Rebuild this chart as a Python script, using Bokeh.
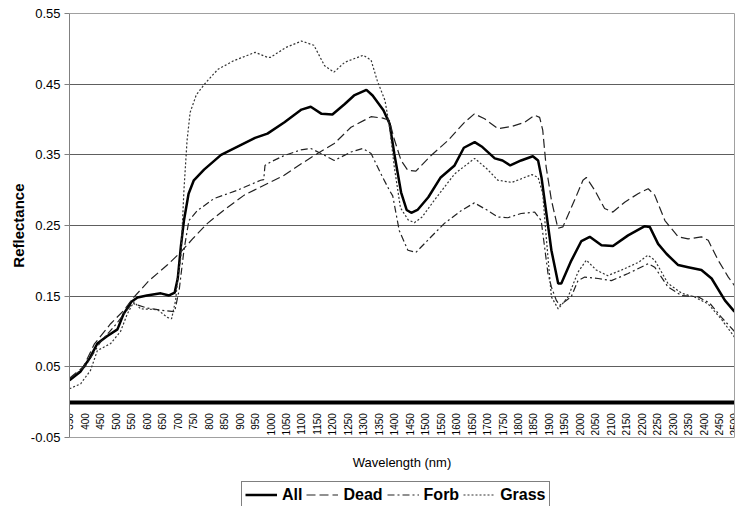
from math import pi
from bokeh.plotting import figure
from bokeh.models import (LinearAxis, FixedTicker, PrintfTickFormatter, Legend,
                          LegendItem, Range1d, Title)
from bokeh.embed import file_html
from bokeh.resources import INLINE

FONT = "Liberation Sans"

# ---------------- data ----------------
x_ticks = list(range(350, 2501, 50))
y_ticks = [-0.05, 0.05, 0.15, 0.25, 0.35, 0.45, 0.55]
grid_ticks = [0.05, 0.15, 0.25, 0.35, 0.45]

all_wl = [350, 385, 415, 440, 470, 505, 525, 550, 570, 600,
          645, 672, 690, 700, 710, 720, 735, 752, 785, 840,
          895, 950, 990, 1045, 1100, 1130, 1165, 1200, 1240, 1270,
          1310, 1330, 1365, 1385, 1400, 1422, 1440, 1455, 1475, 1510,
          1550, 1595, 1625, 1660, 1685, 1725, 1750, 1775, 1810, 1848,
          1865, 1876, 1886, 1908, 1930, 1940, 1972, 2005, 2032, 2070,
          2107, 2156, 2210, 2226, 2253, 2280, 2318, 2350, 2393, 2426,
          2469, 2500]
all_refl = [0.031, 0.043, 0.062, 0.083, 0.093, 0.103, 0.125, 0.142, 0.148, 0.151,
            0.154, 0.151, 0.155, 0.175, 0.220, 0.257, 0.295, 0.314, 0.329, 0.350,
            0.362, 0.374, 0.380, 0.396, 0.414, 0.418, 0.408, 0.407, 0.422, 0.434,
            0.442, 0.434, 0.413, 0.394, 0.352, 0.297, 0.272, 0.268, 0.272, 0.290,
            0.318, 0.335, 0.360, 0.368, 0.361, 0.345, 0.342, 0.335, 0.342, 0.348,
            0.342, 0.318, 0.286, 0.215, 0.168, 0.168, 0.200, 0.228, 0.234, 0.222,
            0.221, 0.236, 0.249, 0.248, 0.224, 0.210, 0.194, 0.191, 0.187, 0.175,
            0.144, 0.128]

dead_wl = [350, 395, 430, 483, 526, 553, 607, 666, 709, 750,
           796, 850, 915, 979, 1044, 1098, 1152, 1206, 1260, 1325,
           1363, 1384, 1400, 1422, 1444, 1470, 1519, 1573, 1627, 1659,
           1692, 1735, 1778, 1821, 1854, 1870, 1880, 1891, 1908, 1929,
           1945, 1983, 2010, 2021, 2048, 2080, 2107, 2145, 2188, 2221,
           2242, 2275, 2318, 2350, 2393, 2415, 2447, 2480, 2500]
dead_refl = [0.034, 0.050, 0.082, 0.111, 0.130, 0.146, 0.172, 0.194, 0.212, 0.232,
             0.253, 0.272, 0.293, 0.307, 0.321, 0.337, 0.352, 0.366, 0.389, 0.404,
             0.402, 0.399, 0.372, 0.342, 0.328, 0.327, 0.349, 0.370, 0.396, 0.408,
             0.401, 0.387, 0.390, 0.396, 0.406, 0.403, 0.385, 0.333, 0.286, 0.246,
             0.248, 0.286, 0.314, 0.318, 0.300, 0.274, 0.269, 0.283, 0.295, 0.302,
             0.293, 0.257, 0.234, 0.231, 0.234, 0.229, 0.201, 0.177, 0.165]

forb_wl = [350, 400, 450, 500, 553, 602, 650, 690, 705, 720,
           736, 763, 817, 893, 968, 978, 982, 1001, 1044, 1098,
           1130, 1163, 1206, 1260, 1298, 1325, 1357, 1384, 1395, 1416,
           1444, 1470, 1508, 1562, 1616, 1659, 1703, 1735, 1767, 1810,
           1854, 1875, 1897, 1908, 1924, 1935, 1972, 1994, 2016, 2059,
           2102, 2156, 2221, 2242, 2285, 2328, 2383, 2420, 2458, 2500]
forb_refl = [0.033, 0.050, 0.085, 0.110, 0.140, 0.133, 0.130, 0.128, 0.160, 0.215,
             0.257, 0.271, 0.288, 0.300, 0.314, 0.315, 0.335, 0.340, 0.349, 0.357,
             0.359, 0.352, 0.342, 0.354, 0.359, 0.352, 0.323, 0.300, 0.292, 0.243,
             0.215, 0.212, 0.229, 0.253, 0.271, 0.282, 0.271, 0.262, 0.261, 0.267,
             0.269, 0.257, 0.182, 0.163, 0.144, 0.137, 0.149, 0.172, 0.177, 0.175,
             0.172, 0.182, 0.196, 0.191, 0.163, 0.151, 0.149, 0.140, 0.120, 0.100]

grass_wl = [350, 386, 418, 440, 483, 515, 537, 558, 580, 634,
            666, 680, 693, 700, 710, 720, 730, 740, 760, 790,
            830, 880, 950, 990, 1000, 1050, 1100, 1140, 1175, 1205,
            1240, 1300, 1325, 1345, 1370, 1385, 1400, 1420, 1445, 1465,
            1490, 1530, 1595, 1660, 1700, 1735, 1780, 1810, 1845, 1865,
            1880, 1890, 1908, 1930, 1962, 1994, 2021, 2053, 2090, 2135,
            2190, 2220, 2242, 2285, 2330, 2370, 2415, 2460, 2500]
grass_refl = [0.019, 0.026, 0.045, 0.073, 0.083, 0.100, 0.125, 0.142, 0.132, 0.131,
              0.120, 0.118, 0.144, 0.175, 0.205, 0.300, 0.370, 0.410, 0.435, 0.452,
              0.471, 0.483, 0.495, 0.488, 0.488, 0.502, 0.511, 0.505, 0.476, 0.467,
              0.481, 0.491, 0.484, 0.455, 0.427, 0.389, 0.333, 0.275, 0.258, 0.254,
              0.262, 0.286, 0.323, 0.345, 0.330, 0.314, 0.311, 0.316, 0.322, 0.318,
              0.295, 0.240, 0.149, 0.132, 0.149, 0.184, 0.201, 0.187, 0.179, 0.187,
              0.198, 0.208, 0.201, 0.168, 0.154, 0.149, 0.139, 0.116, 0.092]

series_names = ["All", "Dead", "Forb", "Grass"]

# ---------------- figure ----------------
# The frame reaches the bottom of the page so that the legend under the
# plot area (drawn inside the frame) is not clipped; the plot area itself
# spans -0.05 .. 0.55 and is bounded by axes drawn at those values.
Y_LO, Y_HI = -0.05, 0.55
Y_BOTTOM = Y_LO - 69 * (Y_HI - Y_LO) / 424.0

p = figure(width=743, height=506, output_backend="svg", toolbar_location=None,
           x_range=Range1d(350, 2500), y_range=Range1d(Y_BOTTOM, Y_HI),
           x_axis_type=None, title=None,
           min_border_left=69, min_border_right=9, min_border_top=13,
           min_border_bottom=0)
p.background_fill_color = "white"
p.border_fill_color = "white"
p.outline_line_color = None

# y axis
ya = p.yaxis[0]
ya.bounds = (Y_LO, Y_HI)
ya.ticker = FixedTicker(ticks=y_ticks)
ya.formatter = PrintfTickFormatter(format="%.2f")
ya.major_label_text_font = FONT
ya.major_label_text_font_size = "13px"
ya.major_label_text_color = "black"
ya.major_label_standoff = 4
ya.major_tick_out = 5
ya.major_tick_in = 0
ya.major_tick_line_color = "#808080"
ya.minor_tick_line_color = None
ya.axis_line_color = "#808080"

# y axis title, centred on the plot area (not on the whole frame)
ytitle = Title(text="Reflectance", align="right", offset=170, standoff=2,
               text_font=FONT, text_font_size="15px", text_font_style="bold",
               text_color="black")
p.add_layout(ytitle, "left")

p.ygrid.ticker = FixedTicker(ticks=grid_ticks)
p.ygrid.grid_line_color = "#5e5e5e"
p.ygrid.grid_line_width = 1

# plot-area border: right and top
ra = LinearAxis(bounds=(Y_LO, Y_HI), ticker=FixedTicker(ticks=[]),
                axis_line_color="#a0a0a0", major_tick_out=0, minor_tick_out=0,
                major_tick_line_color=None, minor_tick_line_color=None,
                major_label_text_font_size="0px", major_label_standoff=0)
p.add_layout(ra, "right")
ta = LinearAxis(ticker=FixedTicker(ticks=[]), axis_line_color="#a0a0a0",
                major_tick_out=0, minor_tick_out=0,
                major_tick_line_color=None, minor_tick_line_color=None,
                major_label_text_font_size="0px", major_label_standoff=0)
p.add_layout(ta, "above")

# category-style x axis crossing at 0
xa = LinearAxis(fixed_location=0, ticker=FixedTicker(ticks=x_ticks),
                major_label_orientation=pi / 2,
                major_label_text_font=FONT, major_label_text_font_size="10px",
                major_label_text_color="black", major_label_standoff=5,
                axis_line_color="black", axis_line_width=4,
                major_tick_line_color=None, minor_tick_line_color=None)
p.add_layout(xa, "below")

# bottom of the plot area with the axis title
xl = LinearAxis(fixed_location=Y_LO, ticker=FixedTicker(ticks=[]),
                axis_label="Wavelength (nm)",
                axis_label_text_font=FONT, axis_label_text_font_size="13px",
                axis_label_text_font_style="normal", axis_label_text_color="black",
                axis_label_standoff=17, axis_line_color="#a0a0a0",
                major_tick_line_color=None, minor_tick_line_color=None,
                major_label_text_font_size="0px", major_label_standoff=0,
                major_tick_out=0, minor_tick_out=0)
p.add_layout(xl, "below")

# ---------------- series ----------------
r_all = p.line(all_wl, all_refl, line_color="black", line_width=2.5)
r_dead = p.line(dead_wl, dead_refl, line_color="#222222", line_width=1.2,
                line_dash="9 4")
r_forb = p.line(forb_wl, forb_refl, line_color="#222222", line_width=1.2,
                line_dash="7 3 2 3")
r_grass = p.line(grass_wl, grass_refl, line_color="#333333", line_width=1.2,
                 line_dash="2 2")

legend = Legend(items=[LegendItem(label=n, renderers=[r]) for n, r in
                       zip(series_names, [r_all, r_dead, r_forb, r_grass])],
                orientation="horizontal", location=(172, -2), margin=0,
                padding=3, spacing=4, glyph_width=32, glyph_height=19,
                label_height=19, label_standoff=5,
                label_text_font=FONT, label_text_font_size="16px",
                label_text_font_style="bold", label_text_color="black",
                border_line_color="black", border_line_width=1,
                background_fill_color="white", background_fill_alpha=1)
p.add_layout(legend)

open("out.html", "w").write(file_html(p, INLINE))
